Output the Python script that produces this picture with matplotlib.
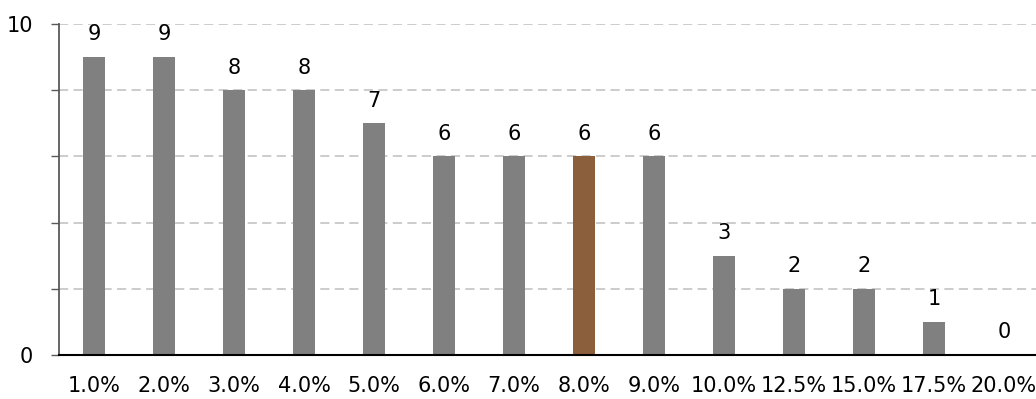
import matplotlib
matplotlib.use("Agg")
import matplotlib.pyplot as plt

categories = ["1.0%", "2.0%", "3.0%", "4.0%", "5.0%", "6.0%", "7.0%", "8.0%",
              "9.0%", "10.0%", "12.5%", "15.0%", "17.5%", "20.0%"]
values = [9, 9, 8, 8, 7, 6, 6, 6, 6, 3, 2, 2, 1, 0]
highlight = "8.0%"

plt.rcParams['font.family'] = ['DejaVu Sans']

fig = plt.figure(figsize=(10.36, 3.99), dpi=100)
ax = fig.add_axes([59/1036, 44/399, 980/1036, 331/399])

colors = ["#8B5E3C" if c == highlight else "#808080" for c in categories]
x = list(range(len(categories)))
bars = ax.bar(x, values, width=0.314, color=colors, zorder=3)

for xi, v in zip(x, values):
    ax.annotate(str(v), (xi, v), xytext=(0, 12), textcoords="offset points",
                ha="center", va="baseline", fontsize=15, color="#000000")

ax.set_xlim(-0.5, len(categories) - 0.5)
ax.set_ylim(0, 10)
ax.set_yticks([0, 2, 4, 6, 8, 10])
ax.set_yticklabels(["0", "", "", "", "", "10"])
ax.set_xticks(x)
ax.set_xticklabels(categories)

ax.tick_params(axis="y", length=5.5, width=1, color="#595959", pad=13,
               labelsize=15, direction="out")
ax.tick_params(axis="x", length=0, pad=15, labelsize=15)

ax.yaxis.grid(True, color="#bfbfbf", linewidth=1.1, linestyle=(0, (6, 3.5)), zorder=0)
ax.xaxis.grid(False)

for s in ["top", "right"]:
    ax.spines[s].set_visible(False)
ax.spines["left"].set_color("#595959")
ax.spines["left"].set_linewidth(1.3)
ax.spines["bottom"].set_color("#000000")
ax.spines["bottom"].set_linewidth(1.5)
ax.spines["bottom"].set_zorder(4)

fig.savefig("out.png", dpi=100)
